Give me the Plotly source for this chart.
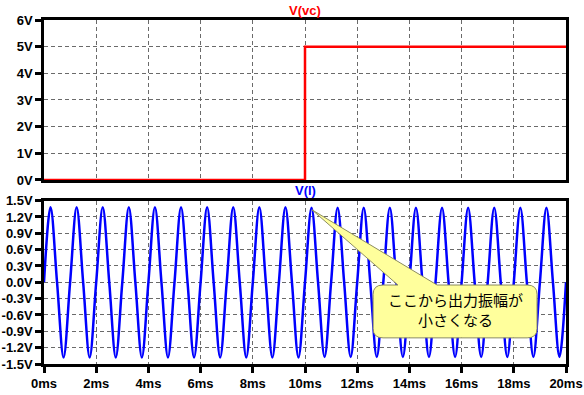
import plotly.graph_objects as go
from plotly.subplots import make_subplots

# ---- data ----
vc_t_ms = [0, 10, 10, 20]
vc_v = [0, 0, 5, 5]

# V(l): sampled at quarter periods (0.25 ms), amplitude ~1.38 V
l_t_ms = [0.0, 0.25, 0.5, 0.75, 1.0, 1.25, 1.5, 1.75, 2.0, 2.25, 2.5, 2.75,
          3.0, 3.25, 3.5, 3.75, 4.0, 4.25, 4.5, 4.75, 5.0, 5.25, 5.5, 5.75,
          6.0, 6.25, 6.5, 6.75, 7.0, 7.25, 7.5, 7.75, 8.0, 8.25, 8.5, 8.75,
          9.0, 9.25, 9.5, 9.75, 10.0, 10.25, 10.5, 10.75, 11.0, 11.25, 11.5, 11.75,
          12.0, 12.25, 12.5, 12.75, 13.0, 13.25, 13.5, 13.75, 14.0, 14.25, 14.5, 14.75,
          15.0, 15.25, 15.5, 15.75, 16.0, 16.25, 16.5, 16.75, 17.0, 17.25, 17.5, 17.75,
          18.0, 18.25, 18.5, 18.75, 19.0, 19.25, 19.5, 19.75, 20.0]
l_v = [0, 1.38, 0, -1.38, 0, 1.38, 0, -1.38, 0, 1.38, 0, -1.38,
       0, 1.38, 0, -1.38, 0, 1.38, 0, -1.38, 0, 1.38, 0, -1.38,
       0, 1.38, 0, -1.38, 0, 1.38, 0, -1.38, 0, 1.38, 0, -1.38,
       0, 1.38, 0, -1.38, 0, 1.37, 0, -1.37, 0, 1.37, 0, -1.37,
       0, 1.37, 0, -1.37, 0, 1.37, 0, -1.37, 0, 1.37, 0, -1.37,
       0, 1.37, 0, -1.37, 0, 1.37, 0, -1.37, 0, 1.37, 0, -1.37,
       0, 1.37, 0, -1.37, 0, 1.37, 0, -1.37, 0]

x_tickvals = [0, 2, 4, 6, 8, 10, 12, 14, 16, 18, 20]
x_ticktext = ["0ms", "2ms", "4ms", "6ms", "8ms", "10ms", "12ms", "14ms", "16ms", "18ms", "20ms"]
vc_tickvals = [0, 1, 2, 3, 4, 5, 6]
vc_ticktext = ["0V", "1V", "2V", "3V", "4V", "5V", "6V"]
l_tickvals = [-1.5, -1.2, -0.9, -0.6, -0.3, 0.0, 0.3, 0.6, 0.9, 1.2, 1.5]
l_ticktext = ["-1.5V", "-1.2V", "-0.9V", "-0.6V", "-0.3V", "0.0V", "0.3V", "0.6V", "0.9V", "1.2V", "1.5V"]

callout_text = "ここから出力振幅が<br>小さくなる"
callout_tip = (10.27, 1.33)
callout_box = (12.61, 18.89, -1.02, -0.05)   # x0, x1, y_bottom, y_top
callout_wedge = (13.56, 15.06)

# ---- figure ----
fig = make_subplots(rows=2, cols=1, shared_xaxes=False, vertical_spacing=0.06)

fig.add_trace(go.Scatter(x=vc_t_ms, y=vc_v, mode="lines",
                         line=dict(color="#ff0000", width=2.5), showlegend=False),
              row=1, col=1)
fig.add_trace(go.Scatter(x=l_t_ms, y=l_v, mode="lines",
                         line=dict(color="#0000ff", width=2.5, shape="spline", smoothing=1.0),
                         showlegend=False),
              row=2, col=1)

tickfont = dict(family="Liberation Sans, Arial", size=13, color="black", weight="bold")
axis_common = dict(showline=True, linecolor="black", linewidth=2.5, mirror=True,
                   ticks="outside", ticklen=6, tickwidth=2.5, tickcolor="black",
                   showgrid=True, gridcolor="#6a6a6a", griddash="4px,3px", gridwidth=1,
                   zeroline=False, tickfont=tickfont, automargin=False)

fig.update_xaxes(range=[0, 20], tickvals=x_tickvals, ticktext=x_ticktext, **axis_common)
fig.update_xaxes(showticklabels=False, ticks="", row=1, col=1)
fig.update_yaxes(range=[0, 6], tickvals=vc_tickvals, ticktext=vc_ticktext,
                 row=1, col=1, **axis_common)
fig.update_yaxes(range=[-1.5, 1.5], tickvals=l_tickvals, ticktext=l_ticktext,
                 row=2, col=1, **axis_common)

fig.update_layout(
    width=584, height=395,
    margin=dict(l=44, r=18, t=20, b=31),
    paper_bgcolor="white", plot_bgcolor="white",
    xaxis=dict(domain=[0, 1]), xaxis2=dict(domain=[0, 1]),
    yaxis=dict(domain=[0.535, 1.0]), yaxis2=dict(domain=[0.0, 0.475]),
)

# titles
fig.add_annotation(text="V(vc)", xref="paper", yref="paper", x=0.5, y=1.0,
                   xanchor="center", yanchor="bottom", yshift=0, showarrow=False,
                   font=dict(family="Liberation Sans, Arial", size=13, color="#ff0000", weight="bold"))
fig.add_annotation(text="V(l)", xref="paper", yref="paper", x=0.5, y=0.475,
                   xanchor="center", yanchor="bottom", yshift=1, showarrow=False,
                   font=dict(family="Liberation Sans, Arial", size=13, color="#0000ff", weight="bold"))

# callout balloon
x0, x1, yb, yt = callout_box
rx, ry = 0.38, 0.17
wl, wr = callout_wedge
tx, ty = callout_tip
path = (f"M {x0+rx},{yt} L {wl},{yt} L {tx},{ty} L {wr},{yt} L {x1-rx},{yt} "
        f"Q {x1},{yt} {x1},{yt-ry} L {x1},{yb+ry} Q {x1},{yb} {x1-rx},{yb} "
        f"L {x0+rx},{yb} Q {x0},{yb} {x0},{yb+ry} L {x0},{yt-ry} Q {x0},{yt} {x0+rx},{yt} Z")
fig.add_shape(type="path", path=path, xref="x2", yref="y2", layer="above",
              fillcolor="#ffff9c", line=dict(color="#8c8c60", width=1))
fig.add_annotation(text=callout_text, xref="x2", yref="y2",
                   x=(x0 + x1) / 2, y=(yb + yt) / 2 + 0.03, showarrow=False,
                   font=dict(family="Noto Sans CJK JP", size=15, color="black"),
                   align="center")

fig.write_html("out.html", config={"displayModeBar": False},
               post_script="document.body.style.margin='0';document.body.style.overflow='hidden';")
